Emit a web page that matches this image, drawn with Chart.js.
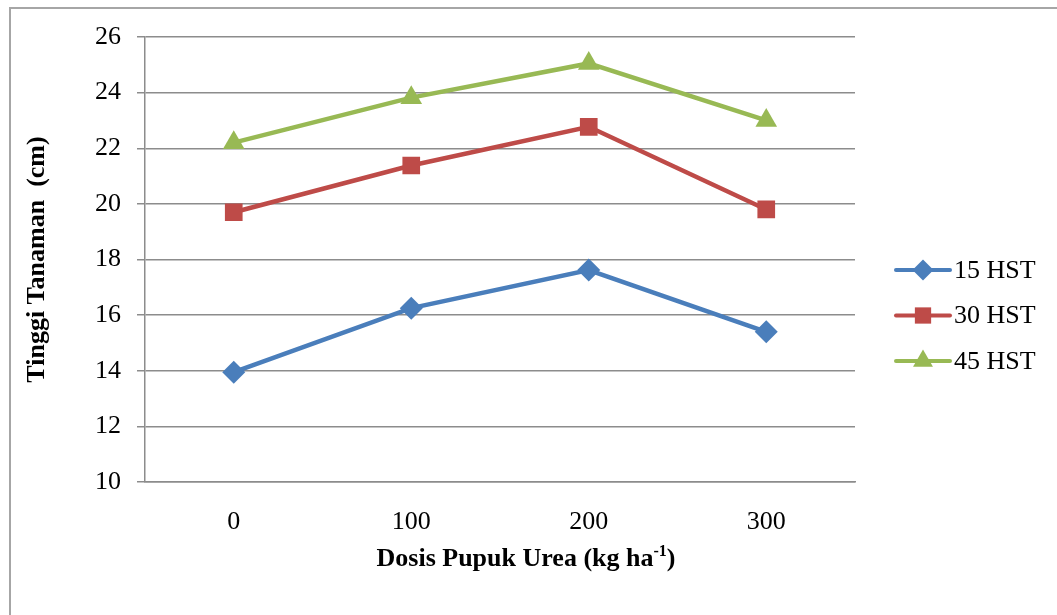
<!DOCTYPE html>
<html lang="id">
<head>
  <meta charset="UTF-8" />
  <title>Tinggi Tanaman</title>
  <style>
    * { box-sizing: border-box; margin: 0; padding: 0; }
    body { width: 1057px; height: 615px; overflow: hidden; background: #fff; position: relative; }
    .frame {
      position: absolute; left: 9px; top: 7px;
      width: 1200px; height: 800px;
      border: 2px solid #a6a6a6;
    }
    .wrap { position: absolute; left: 0; top: 0; width: 1057px; height: 615px; }
  </style>
</head>
<body>
  <div class="frame"></div>
  <div class="wrap"><canvas id="chart"></canvas></div>

  <script src="https://cdn.jsdelivr.net/npm/chart.js"></script>
  <script>
    // data
    const dosis = ['0', '100', '200', '300'];
    const hst15 = [13.95, 16.25, 17.62, 15.4];
    const hst30 = [19.7, 21.38, 22.77, 19.8];
    const hst45 = [22.2, 23.82, 25.05, 23.0];
    const seriesNames = ['15 HST', '30 HST', '45 HST'];
    const yTicks = [10, 12, 14, 16, 18, 20, 22, 24, 26];

    const serif = "'Liberation Serif', 'Times New Roman', serif";

    // legend with line + marker, like the spreadsheet one
    const lineLegend = {
      id: 'lineLegend',
      afterDraw(chart) {
        const ctx = chart.ctx;
        const x0 = 896, x1 = 950, top = 270, gap = 45.5;
        chart.data.datasets.forEach((ds, i) => {
          const y = top + i * gap;
          ctx.save();
          ctx.strokeStyle = ds.borderColor;
          ctx.lineWidth = 4;
          ctx.lineCap = 'round';
          ctx.beginPath();
          ctx.moveTo(x0, y);
          ctx.lineTo(x1, y);
          ctx.stroke();
          ctx.fillStyle = ds.backgroundColor;
          Chart.helpers.drawPoint(ctx, { pointStyle: ds.pointStyle, radius: ds.pointRadius - 1, borderWidth: 0 }, (x0 + x1) / 2, y);
          ctx.fillStyle = '#000';
          ctx.font = '26px ' + serif;
          ctx.textBaseline = 'middle';
          ctx.fillText(ds.label, x1 + 4, y + 1);
          ctx.restore();
        });
      }
    };

    // x axis title with superscript -1
    const xTitle = {
      id: 'xTitle',
      afterDraw(chart) {
        const ctx = chart.ctx;
        const main = 'Dosis Pupuk Urea (kg ha';
        const sup = '-1';
        const end = ')';
        ctx.save();
        ctx.fillStyle = '#000';
        ctx.textBaseline = 'alphabetic';
        ctx.font = 'bold 26px ' + serif;
        const wMain = ctx.measureText(main).width;
        const wEnd = ctx.measureText(end).width;
        ctx.font = 'bold 16px ' + serif;
        const wSup = ctx.measureText(sup).width;
        let x = 526 - (wMain + wSup + wEnd) / 2;
        const base = 566;
        ctx.font = 'bold 26px ' + serif;
        ctx.fillText(main, x, base);
        x += wMain;
        ctx.font = 'bold 16px ' + serif;
        ctx.fillText(sup, x, base - 10);
        x += wSup;
        ctx.font = 'bold 26px ' + serif;
        ctx.fillText(end, x, base);
        ctx.restore();
      }
    };

    const colors = ['#4a7ebb', '#be4b48', '#98b954'];
    const styles = ['rectRot', 'rect', 'triangle'];
    const radii = [11.5, 12.5, 12.5];
    const values = [hst15, hst30, hst45];

    new Chart(document.getElementById('chart'), {
      type: 'line',
      data: {
        labels: dosis,
        datasets: values.map((v, i) => ({
          label: seriesNames[i],
          data: v,
          borderColor: colors[i],
          backgroundColor: colors[i],
          borderWidth: 4.5,
          pointStyle: styles[i],
          pointRadius: radii[i],
          pointBorderWidth: 0,
          pointHoverRadius: radii[i],
          tension: 0,
          fill: false
        }))
      },
      options: {
        responsive: true,
        maintainAspectRatio: false,
        animation: false,
        layout: { padding: { left: 20, top: 37, right: 202, bottom: 0 } },
        plugins: {
          legend: { display: false },
          tooltip: { enabled: false }
        },
        scales: {
          x: {
            offset: true,
            grid: { display: false, drawTicks: false },
            border: { display: true, color: '#8c8c8c', width: 1.5 },
            ticks: { color: '#000', font: { family: serif, size: 26 }, padding: 25 },
            afterFit(s) { s.height = 133; }
          },
          y: {
            min: 10,
            max: 26,
            afterBuildTicks(s) { s.ticks = yTicks.map(v => ({ value: v })); },
            grid: { color: '#8c8c8c', lineWidth: 1.5, tickLength: 8 },
            border: { display: true, color: '#8c8c8c', width: 1.5 },
            ticks: { color: '#000', font: { family: serif, size: 26 }, padding: 16 },
            title: {
              display: true,
              text: 'Tinggi Tanaman  (cm)',
              color: '#000',
              font: { family: serif, size: 26, weight: 'bold' },
              padding: { top: 2, bottom: 0 }
            },
            afterFit(s) { s.width = 125; }
          }
        }
      },
      plugins: [lineLegend, xTitle]
    });
  </script>
</body>
</html>
